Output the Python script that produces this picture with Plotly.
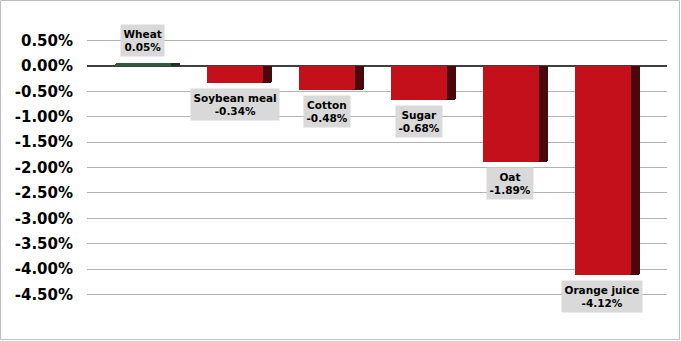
import plotly.graph_objects as go

categories = ["Wheat", "Soybean meal", "Cotton", "Sugar", "Oat", "Orange juice"]
values = [0.05, -0.34, -0.48, -0.68, -1.89, -4.12]
tick_vals = [0.5, 0.0, -0.5, -1.0, -1.5, -2.0, -2.5, -3.0, -3.5, -4.0, -4.5]
tick_text = ["%.2f%%" % v for v in tick_vals]

front_colors = ["#2E5B3C" if v >= 0 else "#C4101B" for v in values]
side_colors = ["#1B3424" if v >= 0 else "#4A070C" for v in values]

W, H = 681, 341
ml, mr, mt, mb = 87, 14, 15, 21

fig = go.Figure()
fig.add_trace(go.Bar(x=categories, y=values, width=0.71, offset=-0.355,
                     marker=dict(color=side_colors, line=dict(width=0), cornerradius=2),
                     hoverinfo="skip", showlegend=False))
fig.add_trace(go.Bar(x=categories, y=values, width=0.61, offset=-0.355,
                     marker=dict(color=front_colors, line=dict(width=0), cornerradius=2),
                     showlegend=False))

for c, v in zip(categories, values):
    fig.add_annotation(x=c, y=v, xshift=-5,
                       yshift=(6 if v >= 0 else -5),
                       yanchor=("bottom" if v >= 0 else "top"),
                       text="%s<br>%.2f%%" % (c, v), showarrow=False,
                       font=dict(family="DejaVu Sans", size=10.5, color="#000000", weight="bold"),
                       bgcolor="#D9D9D9", borderpad=2.5, align="center")

pw = W - ml - mr
ph = H - mt - mb
fig.add_shape(type="rect", xref="paper", yref="paper",
              x0=(-ml + 0.5) / pw, x1=(pw + mr - 1.5) / pw,
              y0=(-mb + 1.5) / ph, y1=(ph + mt - 0.5) / ph,
              line=dict(color="#BFBFBF", width=1), layer="below")

fig.update_layout(
    width=W, height=H, margin=dict(l=ml, r=mr, t=mt, b=mb),
    paper_bgcolor="white", plot_bgcolor="white",
    barmode="overlay", bargap=0,
    xaxis=dict(type="category", range=[-0.658, 5.647], showticklabels=False,
               showgrid=False, zeroline=False, showline=False, ticks=""),
    yaxis=dict(range=[-5, 1], tickvals=tick_vals, ticktext=tick_text,
               showgrid=True, gridcolor="#B3B3B3", gridwidth=1,
               zeroline=True, zerolinecolor="#404040", zerolinewidth=1.5,
               showline=False, ticks="", ticklabelstandoff=13,
               tickfont=dict(family="DejaVu Sans", size=15, color="#000000", weight="bold")),
)

fig.write_html("out.html")
